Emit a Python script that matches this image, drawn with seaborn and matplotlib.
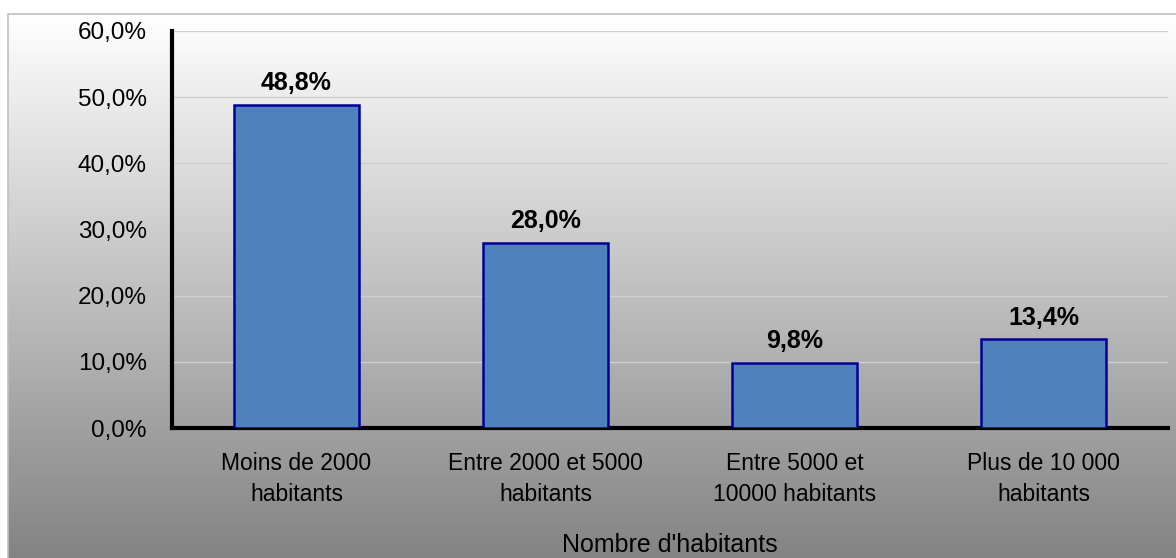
import numpy as np
import pandas as pd
import matplotlib
matplotlib.use("Agg")
import matplotlib.pyplot as plt
from matplotlib.lines import Line2D
from matplotlib.ticker import FuncFormatter, FixedLocator
import seaborn as sns

# ----------------------------------------------------------------------
# Data
# ----------------------------------------------------------------------
categories = [
    "Moins de 2000\nhabitants",
    "Entre 2000 et 5000\nhabitants",
    "Entre 5000 et\n10000 habitants",
    "Plus de 10 000\nhabitants",
]
shares = [48.8, 28.0, 9.8, 13.4]
y_ticks = [0, 10, 20, 30, 40, 50, 60]

df = pd.DataFrame({"categorie": categories, "part": shares})

sns.set_style("white")
plt.rcParams["font.family"] = ["Liberation Sans", "DejaVu Sans"]
plt.rcParams.update({"text.color": "black", "axes.labelcolor": "black",
                     "xtick.color": "black", "ytick.color": "black"})

W, H = 1176, 558
fig = plt.figure(figsize=(W / 100, H / 100), dpi=100)
fig.patch.set_facecolor("white")

# --- gradient background (white at top -> grey at bottom) ---
bx0, by_top = 8, 14
bg = fig.add_axes([bx0 / W, 0, 1 - bx0 / W, (H - by_top) / H])
grad = np.linspace(0, 1, 256).reshape(-1, 1)
cmap = matplotlib.colors.LinearSegmentedColormap.from_list(
    "bg", ["#ffffff", "#838383"])
bg.imshow(grad, aspect="auto", cmap=cmap, extent=[0, 1, 0, 1], origin="upper")
bg.set_axis_off()
# frame: only top and left edges show in the original
fy = 1 - by_top / H
fx = bx0 / W
fig.add_artist(Line2D([fx, fx, 1], [0, fy, fy], transform=fig.transFigure,
                      color="#c0c0c0", lw=1.2))

# --- main axes ---
ax = fig.add_axes([172 / W, 1 - 428 / H, (1168 - 172) / W, (428 - 31) / H])
ax.patch.set_alpha(0)

sns.barplot(data=df, x="categorie", y="part", ax=ax, color="#4f81bd",
            edgecolor="#000099", linewidth=1.8, width=0.5, saturation=1,
            zorder=3)

for i, v in enumerate(shares):
    ax.annotate(f"{v:.1f}%".replace(".", ","), (i, v), xytext=(0, 7),
                textcoords="offset points", ha="center", va="bottom",
                fontsize=18, fontweight="bold", color="black")

ax.set_ylim(0, 60)
ax.set_xlim(-0.5, len(categories) - 0.5)
ax.yaxis.set_major_locator(FixedLocator(y_ticks))
ax.yaxis.set_major_formatter(
    FuncFormatter(lambda v, _: f"{v:.1f}%".replace(".", ",")))
ax.grid(axis="y", color="#cfcfcf", lw=1, zorder=0)
ax.set_axisbelow(True)

# ticks between categories on x axis
ax.xaxis.set_minor_locator(FixedLocator(np.arange(-0.5, len(categories), 1.0)))
ax.tick_params(axis="x", which="major", length=0, pad=17, labelsize=16.5,
               labelcolor="black")
ax.tick_params(axis="x", which="minor", length=6, width=2.5, direction="out",
               color="black")
ax.tick_params(axis="y", which="major", length=6, width=2.5, direction="out",
               color="black", labelcolor="black", labelsize=17.5, pad=12)
for lab in ax.get_xticklabels():
    lab.set_linespacing(1.45)
ax.set_ylabel("")
ax.set_xlabel("Nombre d'habitants", fontsize=18, labelpad=20, color="black")

for s in ["top", "right"]:
    ax.spines[s].set_visible(False)
for s in ["left", "bottom"]:
    ax.spines[s].set_linewidth(3)
    ax.spines[s].set_color("black")

fig.savefig("out.png", dpi=100)
